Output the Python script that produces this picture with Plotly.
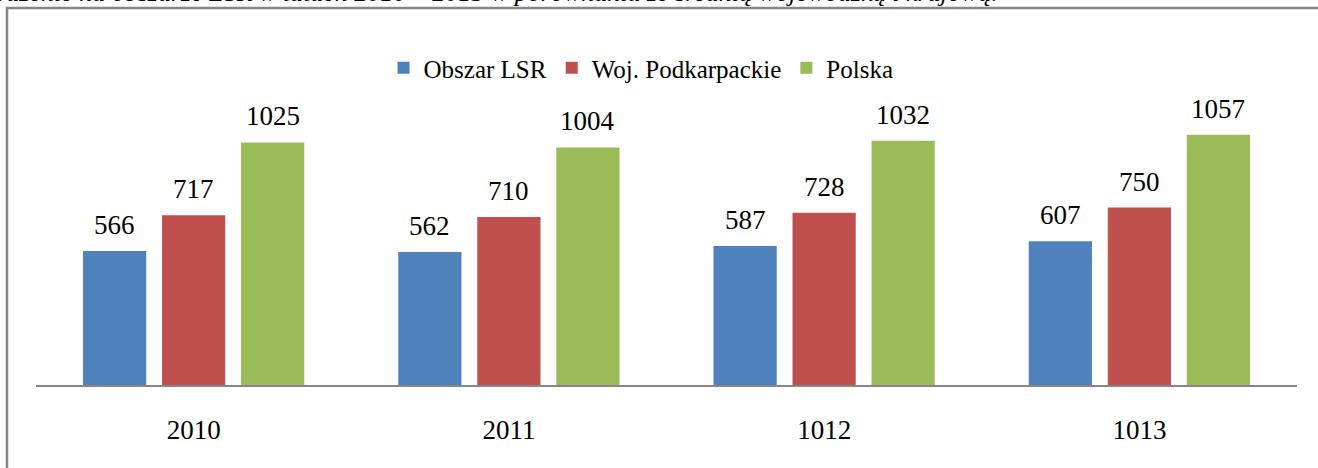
import plotly.graph_objects as go

years = ["2010", "2011", "1012", "1013"]
series_names = ["Obszar LSR", "Woj. Podkarpackie", "Polska"]
obszar_lsr = [566, 562, 587, 607]
woj_podkarpackie = [717, 710, 728, 750]
polska = [1025, 1004, 1032, 1057]
colors = ["#4F81BD", "#C0504D", "#9BBB59"]
caption = "Przeciętne wynagrodzenie na obszarze LSR w latach 2010 – 2013 w porównaniu ze średnią wojewódzką i krajową."

values = [obszar_lsr, woj_podkarpackie, polska]
W, H = 1318, 468
L, R, T, B = 36, 21, 101, 83
pw, ph = W - L - R, H - T - B
FONT = "Liberation Serif, Times New Roman, Times, DejaVu Serif, serif"
bargap, bargroupgap = 0.248, 0.2

xs = list(range(len(years)))
fig = go.Figure()
for name, vals, col in zip(series_names, values, colors):
    fig.add_trace(go.Bar(x=xs, y=vals, name=name, marker=dict(color=col, line=dict(width=0))))

pitch = (1 - bargap) / len(values)
ann = []
for j, vals in enumerate(values):
    off = (j - (len(values) - 1) / 2) * pitch
    for i, v in enumerate(vals):
        ann.append(dict(x=i + off, y=v, xref="x", yref="y", text=str(v), showarrow=False,
                        yanchor="bottom", yshift=9, font=dict(family=FONT, size=27, color="black")))

def px_x(p):
    return (p - L) / pw

def px_y(p):
    return (H - B - p) / ph

ann.append(dict(x=px_x(1000), y=px_y(9), xref="paper", yref="paper", xanchor="right", yanchor="bottom",
                text="<i>" + caption + "</i>", showarrow=False,
                font=dict(family=FONT, size=26, color="black")))

fig.update_layout(
    width=W, height=H,
    margin=dict(l=L, r=R, t=T, b=B),
    paper_bgcolor="white", plot_bgcolor="white",
    barmode="group", bargap=bargap, bargroupgap=bargroupgap,
    showlegend=True,
    legend=dict(orientation="h", x=px_x(641), y=px_y(68), xanchor="center", yanchor="middle",
                font=dict(family=FONT, size=25, color="black"), itemwidth=30, traceorder="normal"),
    xaxis=dict(range=[-0.5, len(years) - 0.5], tickvals=xs, ticktext=years, showgrid=False, zeroline=False,
               showline=True, linecolor="#868686", linewidth=2, ticks="", ticklabelstandoff=20,
               tickfont=dict(family=FONT, size=27, color="black"), fixedrange=True),
    yaxis=dict(range=[0, 1200], visible=False, showgrid=False, zeroline=False),
    annotations=ann,
    shapes=[dict(type="rect", xref="paper", yref="paper", x0=px_x(7), x1=px_x(1400), y0=px_y(520), y1=px_y(8),
                 line=dict(color="#868686", width=2.5), fillcolor="rgba(0,0,0,0)", layer="above")],
)
fig.write_html("out.html", config={"displayModeBar": False},
               post_script="document.body.style.margin='0';document.body.style.overflow='hidden';")
